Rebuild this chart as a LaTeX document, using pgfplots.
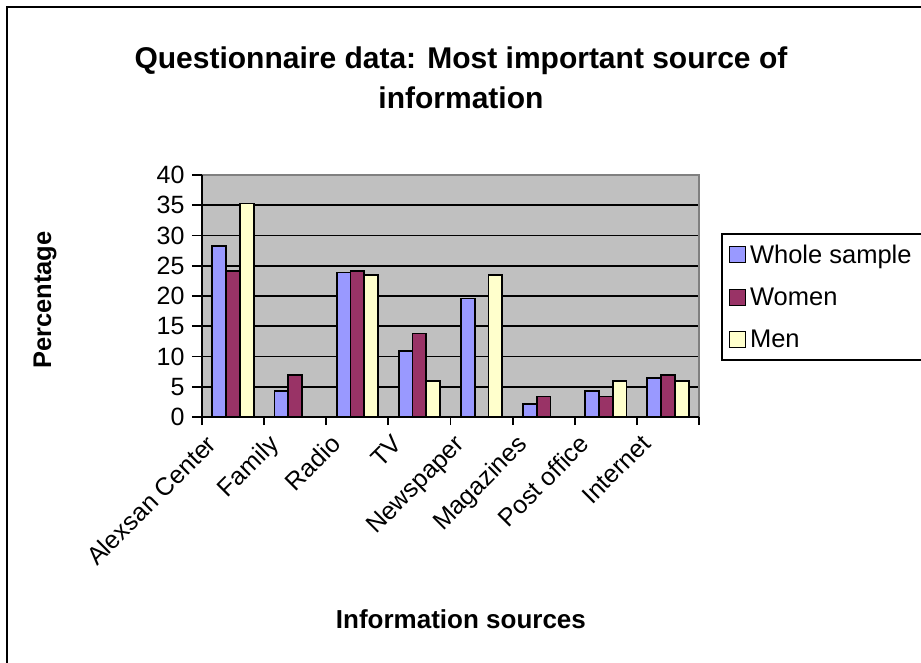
\documentclass[border=0pt]{standalone}
\usepackage{fontspec}
\setmainfont{Liberation Sans}
\usepackage{pgfplots}
\pgfplotsset{compat=1.18}

\definecolor{wholeblue}{HTML}{9999FF}
\definecolor{womenplum}{HTML}{993366}
\definecolor{menivory}{HTML}{FFFFCC}
\definecolor{plotgray}{HTML}{C0C0C0}
\definecolor{edgegray}{HTML}{808080}

\begin{document}
\begin{tikzpicture}[x=1pt,y=1pt]
\useasboundingbox (0,0) rectangle (921,-662);
\clip (0,0) rectangle (921,-662);
% chart area frame
\draw[line width=2.5pt] (7,-670) -- (7,-7) -- (930,-7);
\begin{axis}[
  at={(202pt,-417pt)}, anchor=south west,
  scale only axis, width=497pt, height=242pt,
  clip=false,
  xmin=-0.5, xmax=7.5, ymin=0, ymax=40,
  axis background/.style={fill=plotgray},
  axis line style={draw=none},
  ybar, bar width=0.222,
  legend image code/.code={\draw[#1,line width=1.3pt] (0pt,-8pt) rectangle (16pt,8pt);},
  ytick={0,5,...,40},
  xtick={0,...,7},
  xticklabels={Alexsan Center,Family,Radio,TV,Newspaper,Magazines,Post office,Internet},
  minor xtick={-0.5,0.5,...,7.5},
  xtick pos=bottom, ytick pos=left,
  tick align=outside,
  major tick length=10pt, minor tick length=8pt,
  tick style={black, line width=1.8pt},
  major x tick style={draw=none},
  ymajorgrids, grid style={black, line width=1.8pt},
  /pgf/number format/assume math mode=true,
  yticklabel style={font=\fontsize{25}{30}\selectfont, xshift=-4pt},
  xticklabel style={font=\fontsize{25}{30}\selectfont, xshift=-28pt, yshift=-6pt, rotate=45, anchor=north east, inner sep=0pt},
  title={Questionnaire data: Most important source of\\information},
  title style={at={(axis description cs:0.521,1.376)}, anchor=center, align=center, font=\bfseries\fontsize{30}{40}\selectfont},
  xlabel={Information sources},
  xlabel style={at={(axis description cs:0.521,-0.835)}, anchor=center, font=\bfseries\fontsize{26}{31}\selectfont},
  ylabel={Percentage},
  ylabel style={at={(axis description cs:-0.316,0.483)}, anchor=center, rotate=0, font=\bfseries\fontsize{25.5}{30}\selectfont},
  legend style={at={(rel axis cs:1.0443,0.760)}, anchor=north west, draw=black, line width=1.5pt,
    font=\fontsize{25.5}{30}\selectfont, row sep=19pt, inner xsep=7pt, inner ysep=9pt,
    nodes={inner xsep=4pt}},
  legend cell align=left,
]
\addplot[bar shift=-0.222, fill=wholeblue, draw=black, line width=1.8pt]
  coordinates {(0,28.3) (1,4.3) (2,23.9) (3,10.9) (4,19.6) (5,2.2) (6,4.3) (7,6.5)};
\addplot[bar shift=0, fill=womenplum, draw=black, line width=1.8pt]
  coordinates {(0,24.1) (1,6.9) (2,24.1) (3,13.8) (5,3.4) (6,3.4) (7,6.9)};
\addplot[bar shift=0.222, fill=menivory, draw=black, line width=1.8pt]
  coordinates {(0,35.3) (2,23.5) (3,5.9) (4,23.5) (6,5.9) (7,5.9)};
\legend{Whole sample,Women,Men}
% plot area border: grey top and right, black axes left and bottom
\draw[edgegray, line width=1.8pt] (rel axis cs:0,1) -- (rel axis cs:1,1) -- (rel axis cs:1,0);
\draw[black, line width=1.8pt] (rel axis cs:0,1) -- (rel axis cs:0,0) -- (rel axis cs:1,0);
\end{axis}
\end{tikzpicture}
\end{document}
